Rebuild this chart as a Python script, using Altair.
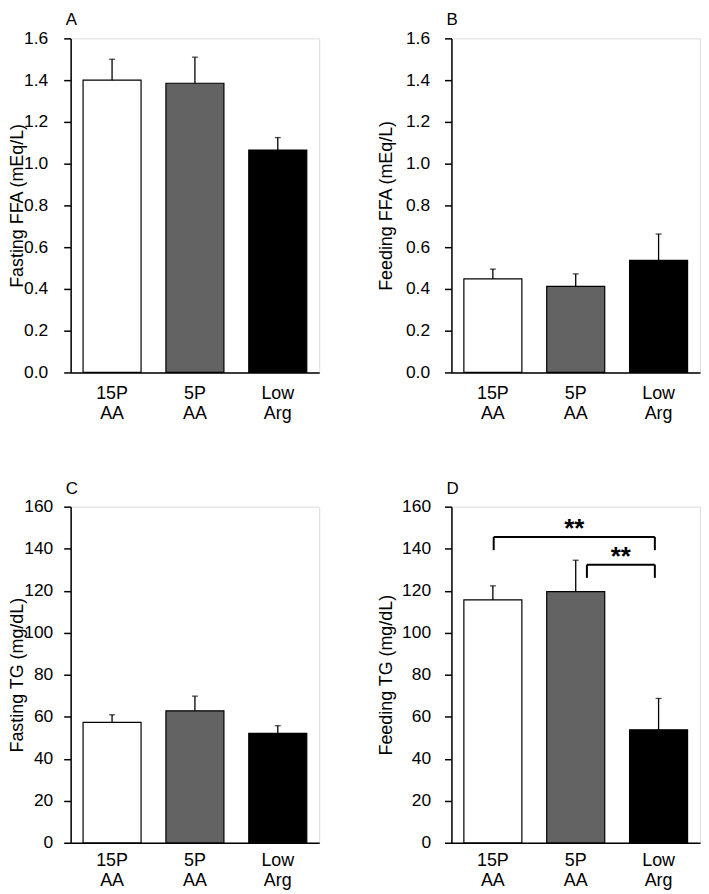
import altair as alt
import pandas as pd

FONT = "Liberation Sans"

groups = ["15P AA", "5P AA", "Low Arg"]
fills = ["#ffffff", "#636363", "#000000"]

# Panel A: fasting FFA (mEq/L)
ffa_fast_mean = [1.40, 1.385, 1.065]
ffa_fast_err = [0.10, 0.125, 0.06]
# Panel B: feeding FFA (mEq/L)
ffa_feed_mean = [0.448, 0.412, 0.537]
ffa_feed_err = [0.047, 0.060, 0.126]
# Panel C: fasting TG (mg/dL)
tg_fast_mean = [57.3, 62.8, 52.1]
tg_fast_err = [3.6, 7.0, 3.6]
# Panel D: feeding TG (mg/dL)
tg_feed_mean = [115.6, 119.6, 53.8]
tg_feed_err = [6.7, 14.9, 14.9]

ffa_ticks = [0.0, 0.2, 0.4, 0.6, 0.8, 1.0, 1.2, 1.4, 1.6]
tg_ticks = [0, 20, 40, 60, 80, 100, 120, 140, 160]

# significance brackets in panel D (x in group-index units, 0..3)
sig_x1 = [0.51, 1.635]
sig_x2 = [2.455, 2.455]
sig_top = [145.6, 132.4]
sig_leg = [139.3, 126.1]
sig_label = ["**", "**"]

W = 250


def panel(letter, ytitle, means, errs, ticks, fmt, lab_pad, title_x, xlab_pad, H, brackets=False):
    df = pd.DataFrame({
        "group": groups,
        "mean": means,
        "top": [m + e for m, e in zip(means, errs)],
    })
    base = alt.Chart(df)
    xscale = alt.Scale(domain=groups, paddingInner=0.3, paddingOuter=0.15)
    x = alt.X(
        "group:N", sort=groups, scale=xscale,
        axis=alt.Axis(
            title=None, labelAngle=0, labelExpr="split(datum.label, ' ')",
            ticks=False, labelFontSize=18, labelLineHeight=20, labelPadding=xlab_pad,
            labelColor="black", domainColor="black", domainWidth=1.5,
            labelFont=FONT,
        ),
    )
    yscale = alt.Scale(domain=[ticks[0], ticks[-1]], nice=False, zero=True)
    y = alt.Y(
        "mean:Q", scale=yscale,
        axis=alt.Axis(
            title=ytitle, values=ticks, format=fmt, grid=False, tickSize=7,
            tickColor="black", tickWidth=1.5, domainColor="black", domainWidth=1.5,
            labelFontSize=17.5, labelPadding=lab_pad, labelColor="black", labelFont=FONT,
            titleFontSize=18, titleFontWeight="normal", titleColor="black", titleFont=FONT,
            titleX=title_x, titleY=H / 2, titleAngle=270, titleBaseline="top",
            titleAlign="center",
        ),
    )
    bars = base.mark_bar(stroke="black", strokeWidth=1.2).encode(
        x=x, y=y,
        fill=alt.Fill("group:N", scale=alt.Scale(domain=groups, range=fills), legend=None),
    )
    stems = base.mark_rule(color="black", strokeWidth=1.3).encode(
        x=alt.X("group:N", sort=groups, scale=xscale),
        y=alt.Y("mean:Q", scale=yscale, title=ytitle),
        y2="top:Q",
    )
    caps = base.mark_tick(color="black", size=6, thickness=1.3).encode(
        x=alt.X("group:N", sort=groups, scale=xscale),
        y=alt.Y("top:Q", scale=yscale, title=ytitle),
    )
    lab = alt.Chart(pd.DataFrame({"t": [letter]})).mark_text(
        font=FONT, fontSize=17, align="left", baseline="alphabetic", color="black",
    ).encode(x=alt.value(-5), y=alt.value(-13), text="t:N")
    main = alt.layer(bars, stems, caps, lab)
    if brackets:
        sig = pd.DataFrame({
            "x1": sig_x1, "x2": sig_x2, "ytop": sig_top, "yleg": sig_leg,
            "label": sig_label,
            "xm": [(a + b) / 2 for a, b in zip(sig_x1, sig_x2)],
        })
        sb = alt.Chart(sig)
        xs = alt.Scale(domain=[0, 3], nice=False, zero=False)
        hline = sb.mark_rule(color="black", strokeWidth=2).encode(
            x=alt.X("x1:Q", scale=xs, axis=None), x2="x2:Q",
            y=alt.Y("ytop:Q", scale=yscale, title=ytitle),
        )
        leg1 = sb.mark_rule(color="black", strokeWidth=2).encode(
            x=alt.X("x1:Q", scale=xs, axis=None),
            y=alt.Y("ytop:Q", scale=yscale, title=ytitle), y2="yleg:Q",
        )
        leg2 = sb.mark_rule(color="black", strokeWidth=2).encode(
            x=alt.X("x2:Q", scale=xs, axis=None),
            y=alt.Y("ytop:Q", scale=yscale, title=ytitle), y2="yleg:Q",
        )
        stars = sb.mark_text(
            font=FONT, fontSize=26, fontWeight="bold", baseline="alphabetic",
            align="center", dy=0, color="black",
        ).encode(
            x=alt.X("xm:Q", scale=xs, axis=None),
            y=alt.Y("ytop:Q", scale=yscale, title=ytitle),
            text="label:N",
        )
        ann = alt.layer(hline, leg1, leg2, stars)
        ch = alt.layer(main, ann).resolve_scale(x="independent")
    else:
        ch = main
    return ch.properties(width=W, height=H)


pA = panel("A", "Fasting FFA (mEq/L)", ffa_fast_mean, ffa_fast_err, ffa_ticks, ".1f", 16, -62, 12, 336)
pB = panel("B", "Feeding FFA (mEq/L)", ffa_feed_mean, ffa_feed_err, ffa_ticks, ".1f", 15, -74, 12, 336)
pC = panel("C", "Fasting TG (mg/dL)", tg_fast_mean, tg_fast_err, tg_ticks, "d", 11, -62, 9, 338)
pD = panel("D", "Feeding TG (mg/dL)", tg_feed_mean, tg_feed_err, tg_ticks, "d", 14, -74, 9, 338, brackets=True)

row1 = alt.hconcat(pA, pB, spacing=57).resolve_scale(x="independent", y="independent")
row2 = alt.hconcat(pC, pD, spacing=57).resolve_scale(x="independent", y="independent")

chart = (
    alt.vconcat(row1, row2, spacing=56)
    .resolve_scale(x="independent", y="independent")
    .properties(padding=0)
    .configure_view(stroke=None)
    .configure(font=FONT)
)

chart.save("out.html", embed_options={"renderer": "svg", "actions": False})
